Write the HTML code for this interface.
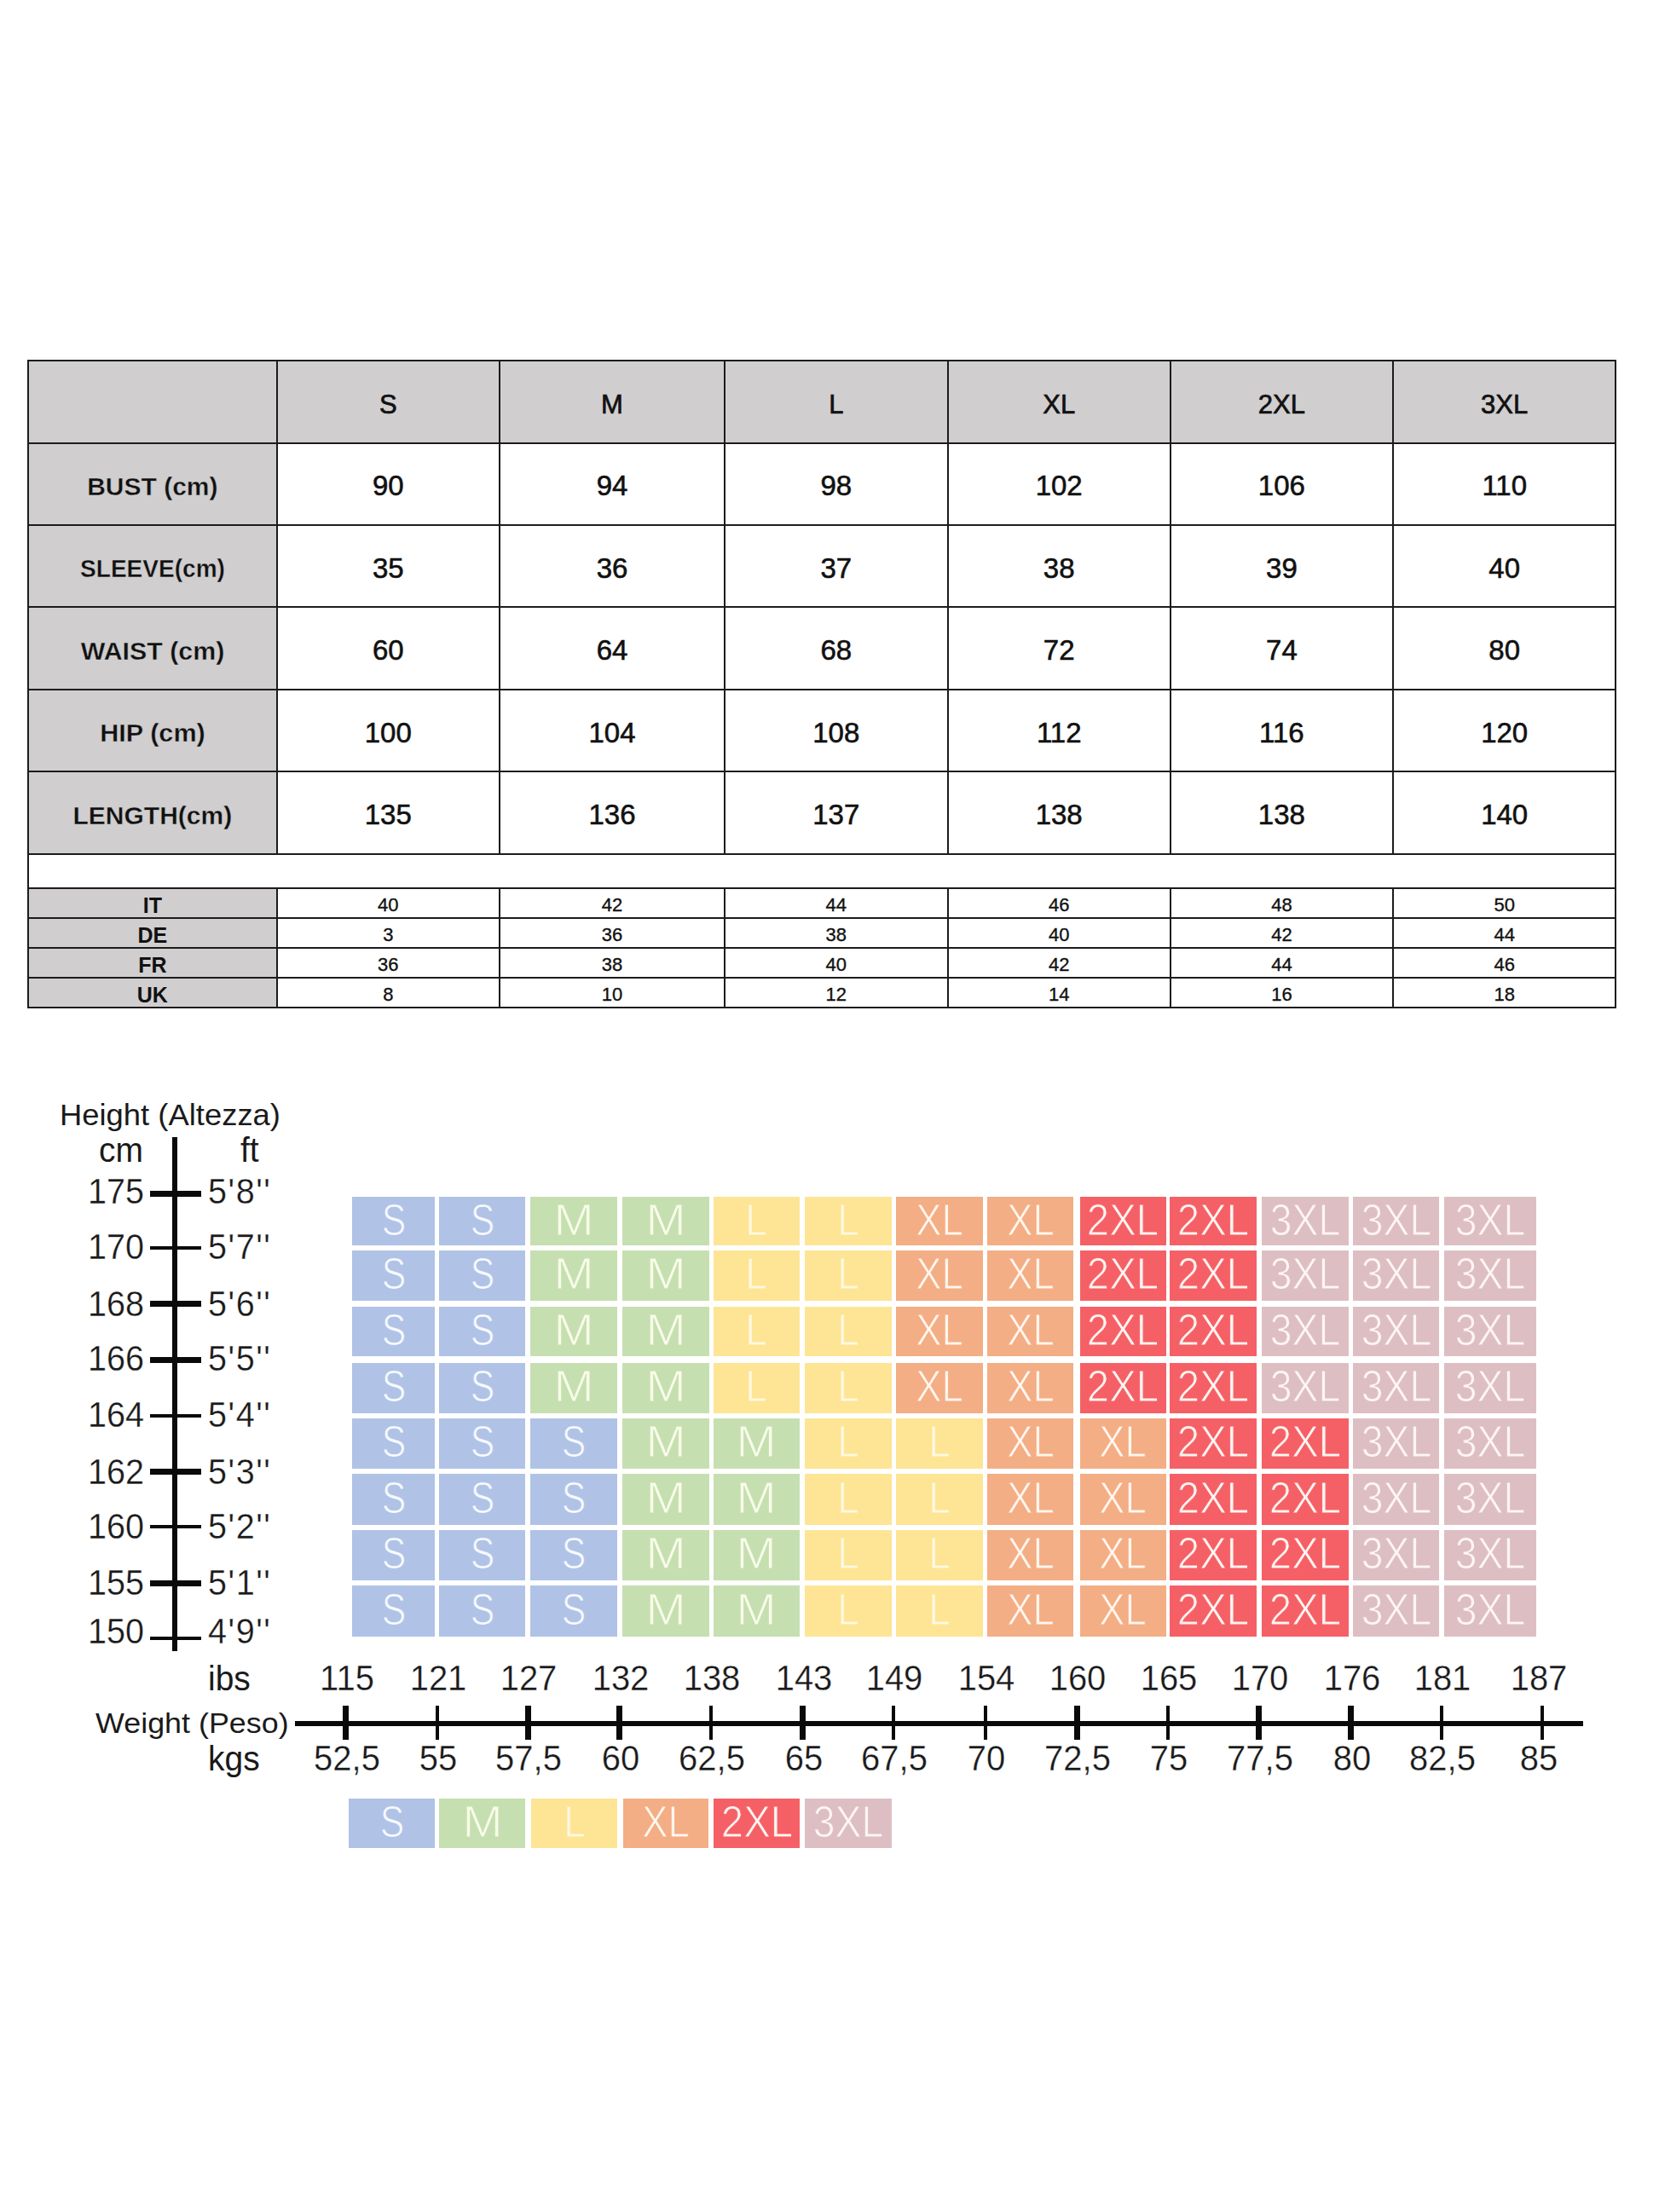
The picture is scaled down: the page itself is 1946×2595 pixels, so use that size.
<!DOCTYPE html>
<html><head><meta charset="utf-8"><title>Size chart</title>
<style>
html,body{margin:0;padding:0;background:#fff;}
body{width:1946px;height:2595px;position:relative;overflow:hidden;font-family:"Liberation Sans", sans-serif;}
body>div{position:absolute;}
.t{line-height:1;white-space:nowrap;}
</style></head><body>
<div style="left:33.0px;top:423.0px;width:1862.3px;height:96.5px;background:#d0cecf;"></div>
<div style="left:33.0px;top:519.5px;width:291.6px;height:482.1px;background:#d0cecf;"></div>
<div style="left:33.0px;top:1042.0px;width:291.6px;height:140.0px;background:#d0cecf;"></div>
<div style="left:32.0px;top:422.0px;width:1864.3px;height:2.0px;background:#1c1c1c;"></div>
<div style="left:32.0px;top:518.5px;width:1864.3px;height:2.0px;background:#1c1c1c;"></div>
<div style="left:32.0px;top:614.8px;width:1864.3px;height:2.0px;background:#1c1c1c;"></div>
<div style="left:32.0px;top:711.2px;width:1864.3px;height:2.0px;background:#1c1c1c;"></div>
<div style="left:32.0px;top:807.8px;width:1864.3px;height:2.0px;background:#1c1c1c;"></div>
<div style="left:32.0px;top:904.1px;width:1864.3px;height:2.0px;background:#1c1c1c;"></div>
<div style="left:32.0px;top:1000.6px;width:1864.3px;height:2.0px;background:#1c1c1c;"></div>
<div style="left:32.0px;top:1041.0px;width:1864.3px;height:2.0px;background:#1c1c1c;"></div>
<div style="left:32.0px;top:1076.0px;width:1864.3px;height:2.0px;background:#1c1c1c;"></div>
<div style="left:32.0px;top:1111.0px;width:1864.3px;height:2.0px;background:#1c1c1c;"></div>
<div style="left:32.0px;top:1146.0px;width:1864.3px;height:2.0px;background:#1c1c1c;"></div>
<div style="left:32.0px;top:1181.0px;width:1864.3px;height:2.0px;background:#1c1c1c;"></div>
<div style="left:32.0px;top:422.0px;width:2.0px;height:761.0px;background:#1c1c1c;"></div>
<div style="left:323.6px;top:422.0px;width:2.0px;height:580.6px;background:#1c1c1c;"></div>
<div style="left:323.6px;top:1041.0px;width:2.0px;height:142.0px;background:#1c1c1c;"></div>
<div style="left:585.0px;top:422.0px;width:2.0px;height:580.6px;background:#1c1c1c;"></div>
<div style="left:585.0px;top:1041.0px;width:2.0px;height:142.0px;background:#1c1c1c;"></div>
<div style="left:849.1px;top:422.0px;width:2.0px;height:580.6px;background:#1c1c1c;"></div>
<div style="left:849.1px;top:1041.0px;width:2.0px;height:142.0px;background:#1c1c1c;"></div>
<div style="left:1110.5px;top:422.0px;width:2.0px;height:580.6px;background:#1c1c1c;"></div>
<div style="left:1110.5px;top:1041.0px;width:2.0px;height:142.0px;background:#1c1c1c;"></div>
<div style="left:1371.8px;top:422.0px;width:2.0px;height:580.6px;background:#1c1c1c;"></div>
<div style="left:1371.8px;top:1041.0px;width:2.0px;height:142.0px;background:#1c1c1c;"></div>
<div style="left:1633.1px;top:422.0px;width:2.0px;height:580.6px;background:#1c1c1c;"></div>
<div style="left:1633.1px;top:1041.0px;width:2.0px;height:142.0px;background:#1c1c1c;"></div>
<div style="left:1894.3px;top:422.0px;width:2.0px;height:761.0px;background:#1c1c1c;"></div>
<div class="t" style="left:55.3px;width:800px;top:458.5px;font-size:31px;font-weight:400;color:#111;text-align:center;-webkit-text-stroke:0.7px #111;">S</div>
<div class="t" style="left:318.0px;width:800px;top:458.5px;font-size:31px;font-weight:400;color:#111;text-align:center;-webkit-text-stroke:0.7px #111;">M</div>
<div class="t" style="left:580.8px;width:800px;top:458.5px;font-size:31px;font-weight:400;color:#111;text-align:center;-webkit-text-stroke:0.7px #111;">L</div>
<div class="t" style="left:842.2px;width:800px;top:458.5px;font-size:31px;font-weight:400;color:#111;text-align:center;-webkit-text-stroke:0.7px #111;">XL</div>
<div class="t" style="left:1103.4px;width:800px;top:458.5px;font-size:31px;font-weight:400;color:#111;text-align:center;-webkit-text-stroke:0.7px #111;">2XL</div>
<div class="t" style="left:1364.7px;width:800px;top:458.5px;font-size:31px;font-weight:400;color:#111;text-align:center;-webkit-text-stroke:0.7px #111;">3XL</div>
<div class="t" style="left:-221.2px;width:800px;top:555.8px;font-size:30px;font-weight:700;color:#111;text-align:center;-webkit-text-stroke:0.4px #d0cecf;">BUST (cm)</div>
<div class="t" style="left:55.3px;width:800px;top:553.2px;font-size:33px;font-weight:400;color:#111;text-align:center;-webkit-text-stroke:0.6px #111;">90</div>
<div class="t" style="left:318.0px;width:800px;top:553.2px;font-size:33px;font-weight:400;color:#111;text-align:center;-webkit-text-stroke:0.6px #111;">94</div>
<div class="t" style="left:580.8px;width:800px;top:553.2px;font-size:33px;font-weight:400;color:#111;text-align:center;-webkit-text-stroke:0.6px #111;">98</div>
<div class="t" style="left:842.2px;width:800px;top:553.2px;font-size:33px;font-weight:400;color:#111;text-align:center;-webkit-text-stroke:0.6px #111;">102</div>
<div class="t" style="left:1103.4px;width:800px;top:553.2px;font-size:33px;font-weight:400;color:#111;text-align:center;-webkit-text-stroke:0.6px #111;">106</div>
<div class="t" style="left:1364.7px;width:800px;top:553.2px;font-size:33px;font-weight:400;color:#111;text-align:center;-webkit-text-stroke:0.6px #111;">110</div>
<div class="t" style="left:-221.2px;width:800px;top:652.1px;font-size:30px;font-weight:700;color:#111;text-align:center;transform:scaleX(0.935);-webkit-text-stroke:0.4px #d0cecf;">SLEEVE(cm)</div>
<div class="t" style="left:55.3px;width:800px;top:649.6px;font-size:33px;font-weight:400;color:#111;text-align:center;-webkit-text-stroke:0.6px #111;">35</div>
<div class="t" style="left:318.0px;width:800px;top:649.6px;font-size:33px;font-weight:400;color:#111;text-align:center;-webkit-text-stroke:0.6px #111;">36</div>
<div class="t" style="left:580.8px;width:800px;top:649.6px;font-size:33px;font-weight:400;color:#111;text-align:center;-webkit-text-stroke:0.6px #111;">37</div>
<div class="t" style="left:842.2px;width:800px;top:649.6px;font-size:33px;font-weight:400;color:#111;text-align:center;-webkit-text-stroke:0.6px #111;">38</div>
<div class="t" style="left:1103.4px;width:800px;top:649.6px;font-size:33px;font-weight:400;color:#111;text-align:center;-webkit-text-stroke:0.6px #111;">39</div>
<div class="t" style="left:1364.7px;width:800px;top:649.6px;font-size:33px;font-weight:400;color:#111;text-align:center;-webkit-text-stroke:0.6px #111;">40</div>
<div class="t" style="left:-221.2px;width:800px;top:748.6px;font-size:30px;font-weight:700;color:#111;text-align:center;transform:scaleX(1.012);-webkit-text-stroke:0.4px #d0cecf;">WAIST (cm)</div>
<div class="t" style="left:55.3px;width:800px;top:746.1px;font-size:33px;font-weight:400;color:#111;text-align:center;-webkit-text-stroke:0.6px #111;">60</div>
<div class="t" style="left:318.0px;width:800px;top:746.1px;font-size:33px;font-weight:400;color:#111;text-align:center;-webkit-text-stroke:0.6px #111;">64</div>
<div class="t" style="left:580.8px;width:800px;top:746.1px;font-size:33px;font-weight:400;color:#111;text-align:center;-webkit-text-stroke:0.6px #111;">68</div>
<div class="t" style="left:842.2px;width:800px;top:746.1px;font-size:33px;font-weight:400;color:#111;text-align:center;-webkit-text-stroke:0.6px #111;">72</div>
<div class="t" style="left:1103.4px;width:800px;top:746.1px;font-size:33px;font-weight:400;color:#111;text-align:center;-webkit-text-stroke:0.6px #111;">74</div>
<div class="t" style="left:1364.7px;width:800px;top:746.1px;font-size:33px;font-weight:400;color:#111;text-align:center;-webkit-text-stroke:0.6px #111;">80</div>
<div class="t" style="left:-221.2px;width:800px;top:845.1px;font-size:30px;font-weight:700;color:#111;text-align:center;transform:scaleX(1.02);-webkit-text-stroke:0.4px #d0cecf;">HIP (cm)</div>
<div class="t" style="left:55.3px;width:800px;top:842.5px;font-size:33px;font-weight:400;color:#111;text-align:center;-webkit-text-stroke:0.6px #111;">100</div>
<div class="t" style="left:318.0px;width:800px;top:842.5px;font-size:33px;font-weight:400;color:#111;text-align:center;-webkit-text-stroke:0.6px #111;">104</div>
<div class="t" style="left:580.8px;width:800px;top:842.5px;font-size:33px;font-weight:400;color:#111;text-align:center;-webkit-text-stroke:0.6px #111;">108</div>
<div class="t" style="left:842.2px;width:800px;top:842.5px;font-size:33px;font-weight:400;color:#111;text-align:center;-webkit-text-stroke:0.6px #111;">112</div>
<div class="t" style="left:1103.4px;width:800px;top:842.5px;font-size:33px;font-weight:400;color:#111;text-align:center;-webkit-text-stroke:0.6px #111;">116</div>
<div class="t" style="left:1364.7px;width:800px;top:842.5px;font-size:33px;font-weight:400;color:#111;text-align:center;-webkit-text-stroke:0.6px #111;">120</div>
<div class="t" style="left:-221.2px;width:800px;top:941.5px;font-size:30px;font-weight:700;color:#111;text-align:center;-webkit-text-stroke:0.4px #d0cecf;">LENGTH(cm)</div>
<div class="t" style="left:55.3px;width:800px;top:938.9px;font-size:33px;font-weight:400;color:#111;text-align:center;-webkit-text-stroke:0.6px #111;">135</div>
<div class="t" style="left:318.0px;width:800px;top:938.9px;font-size:33px;font-weight:400;color:#111;text-align:center;-webkit-text-stroke:0.6px #111;">136</div>
<div class="t" style="left:580.8px;width:800px;top:938.9px;font-size:33px;font-weight:400;color:#111;text-align:center;-webkit-text-stroke:0.6px #111;">137</div>
<div class="t" style="left:842.2px;width:800px;top:938.9px;font-size:33px;font-weight:400;color:#111;text-align:center;-webkit-text-stroke:0.6px #111;">138</div>
<div class="t" style="left:1103.4px;width:800px;top:938.9px;font-size:33px;font-weight:400;color:#111;text-align:center;-webkit-text-stroke:0.6px #111;">138</div>
<div class="t" style="left:1364.7px;width:800px;top:938.9px;font-size:33px;font-weight:400;color:#111;text-align:center;-webkit-text-stroke:0.6px #111;">140</div>
<div class="t" style="left:-221.2px;width:800px;top:1049.5px;font-size:25px;font-weight:700;color:#111;text-align:center;">IT</div>
<div class="t" style="left:55.3px;width:800px;top:1050.8px;font-size:22px;font-weight:400;color:#111;text-align:center;-webkit-text-stroke:0.35px #111;">40</div>
<div class="t" style="left:318.0px;width:800px;top:1050.8px;font-size:22px;font-weight:400;color:#111;text-align:center;-webkit-text-stroke:0.35px #111;">42</div>
<div class="t" style="left:580.8px;width:800px;top:1050.8px;font-size:22px;font-weight:400;color:#111;text-align:center;-webkit-text-stroke:0.35px #111;">44</div>
<div class="t" style="left:842.2px;width:800px;top:1050.8px;font-size:22px;font-weight:400;color:#111;text-align:center;-webkit-text-stroke:0.35px #111;">46</div>
<div class="t" style="left:1103.4px;width:800px;top:1050.8px;font-size:22px;font-weight:400;color:#111;text-align:center;-webkit-text-stroke:0.35px #111;">48</div>
<div class="t" style="left:1364.7px;width:800px;top:1050.8px;font-size:22px;font-weight:400;color:#111;text-align:center;-webkit-text-stroke:0.35px #111;">50</div>
<div class="t" style="left:-221.2px;width:800px;top:1084.5px;font-size:25px;font-weight:700;color:#111;text-align:center;">DE</div>
<div class="t" style="left:55.3px;width:800px;top:1085.8px;font-size:22px;font-weight:400;color:#111;text-align:center;-webkit-text-stroke:0.35px #111;">3</div>
<div class="t" style="left:318.0px;width:800px;top:1085.8px;font-size:22px;font-weight:400;color:#111;text-align:center;-webkit-text-stroke:0.35px #111;">36</div>
<div class="t" style="left:580.8px;width:800px;top:1085.8px;font-size:22px;font-weight:400;color:#111;text-align:center;-webkit-text-stroke:0.35px #111;">38</div>
<div class="t" style="left:842.2px;width:800px;top:1085.8px;font-size:22px;font-weight:400;color:#111;text-align:center;-webkit-text-stroke:0.35px #111;">40</div>
<div class="t" style="left:1103.4px;width:800px;top:1085.8px;font-size:22px;font-weight:400;color:#111;text-align:center;-webkit-text-stroke:0.35px #111;">42</div>
<div class="t" style="left:1364.7px;width:800px;top:1085.8px;font-size:22px;font-weight:400;color:#111;text-align:center;-webkit-text-stroke:0.35px #111;">44</div>
<div class="t" style="left:-221.2px;width:800px;top:1119.5px;font-size:25px;font-weight:700;color:#111;text-align:center;">FR</div>
<div class="t" style="left:55.3px;width:800px;top:1120.8px;font-size:22px;font-weight:400;color:#111;text-align:center;-webkit-text-stroke:0.35px #111;">36</div>
<div class="t" style="left:318.0px;width:800px;top:1120.8px;font-size:22px;font-weight:400;color:#111;text-align:center;-webkit-text-stroke:0.35px #111;">38</div>
<div class="t" style="left:580.8px;width:800px;top:1120.8px;font-size:22px;font-weight:400;color:#111;text-align:center;-webkit-text-stroke:0.35px #111;">40</div>
<div class="t" style="left:842.2px;width:800px;top:1120.8px;font-size:22px;font-weight:400;color:#111;text-align:center;-webkit-text-stroke:0.35px #111;">42</div>
<div class="t" style="left:1103.4px;width:800px;top:1120.8px;font-size:22px;font-weight:400;color:#111;text-align:center;-webkit-text-stroke:0.35px #111;">44</div>
<div class="t" style="left:1364.7px;width:800px;top:1120.8px;font-size:22px;font-weight:400;color:#111;text-align:center;-webkit-text-stroke:0.35px #111;">46</div>
<div class="t" style="left:-221.2px;width:800px;top:1154.5px;font-size:25px;font-weight:700;color:#111;text-align:center;">UK</div>
<div class="t" style="left:55.3px;width:800px;top:1155.8px;font-size:22px;font-weight:400;color:#111;text-align:center;-webkit-text-stroke:0.35px #111;">8</div>
<div class="t" style="left:318.0px;width:800px;top:1155.8px;font-size:22px;font-weight:400;color:#111;text-align:center;-webkit-text-stroke:0.35px #111;">10</div>
<div class="t" style="left:580.8px;width:800px;top:1155.8px;font-size:22px;font-weight:400;color:#111;text-align:center;-webkit-text-stroke:0.35px #111;">12</div>
<div class="t" style="left:842.2px;width:800px;top:1155.8px;font-size:22px;font-weight:400;color:#111;text-align:center;-webkit-text-stroke:0.35px #111;">14</div>
<div class="t" style="left:1103.4px;width:800px;top:1155.8px;font-size:22px;font-weight:400;color:#111;text-align:center;-webkit-text-stroke:0.35px #111;">16</div>
<div class="t" style="left:1364.7px;width:800px;top:1155.8px;font-size:22px;font-weight:400;color:#111;text-align:center;-webkit-text-stroke:0.35px #111;">18</div>
<div style="left:412.7px;top:1404.3px;width:97.8px;height:57.1px;background:#b0c3e6;"></div>
<div class="t" style="left:61.6px;width:800px;top:1405.5px;font-size:51.5px;font-weight:400;color:#f7f9fe;text-align:center;transform:scaleX(0.83);-webkit-text-stroke:1.0px #b0c3e6;">S</div>
<div style="left:514.8px;top:1404.3px;width:101.7px;height:57.1px;background:#b0c3e6;"></div>
<div class="t" style="left:165.6px;width:800px;top:1405.5px;font-size:51.5px;font-weight:400;color:#f7f9fe;text-align:center;transform:scaleX(0.83);-webkit-text-stroke:1.0px #b0c3e6;">S</div>
<div style="left:622.4px;top:1404.3px;width:101.6px;height:57.1px;background:#c6dfb0;"></div>
<div class="t" style="left:273.2px;width:800px;top:1405.5px;font-size:51.5px;font-weight:400;color:#f8fce9;text-align:center;transform:scaleX(1.1);-webkit-text-stroke:1.0px #c6dfb0;">M</div>
<div style="left:730.4px;top:1404.3px;width:101.2px;height:57.1px;background:#c6dfb0;"></div>
<div class="t" style="left:381.0px;width:800px;top:1405.5px;font-size:51.5px;font-weight:400;color:#f8fce9;text-align:center;transform:scaleX(1.1);-webkit-text-stroke:1.0px #c6dfb0;">M</div>
<div style="left:836.7px;top:1404.3px;width:101.3px;height:57.1px;background:#fde595;"></div>
<div class="t" style="left:487.4px;width:800px;top:1405.5px;font-size:51.5px;font-weight:400;color:#fff8e2;text-align:center;transform:scaleX(0.89);-webkit-text-stroke:1.0px #fde595;">L</div>
<div style="left:944.3px;top:1404.3px;width:101.3px;height:57.1px;background:#fde595;"></div>
<div class="t" style="left:594.9px;width:800px;top:1405.5px;font-size:51.5px;font-weight:400;color:#fff8e2;text-align:center;transform:scaleX(0.89);-webkit-text-stroke:1.0px #fde595;">L</div>
<div style="left:1050.6px;top:1404.3px;width:102.7px;height:57.1px;background:#f3ae85;"></div>
<div class="t" style="left:701.9px;width:800px;top:1405.5px;font-size:51.5px;font-weight:400;color:#fff6ee;text-align:center;transform:scaleX(0.88);-webkit-text-stroke:1.0px #f3ae85;">XL</div>
<div style="left:1158.1px;top:1404.3px;width:101.3px;height:57.1px;background:#f3ae85;"></div>
<div class="t" style="left:808.8px;width:800px;top:1405.5px;font-size:51.5px;font-weight:400;color:#fff6ee;text-align:center;transform:scaleX(0.88);-webkit-text-stroke:1.0px #f3ae85;">XL</div>
<div style="left:1266.6px;top:1404.3px;width:101.3px;height:57.1px;background:#f56066;"></div>
<div class="t" style="left:917.2px;width:800px;top:1405.5px;font-size:51.5px;font-weight:400;color:#fff4f0;text-align:center;transform:scaleX(0.92);-webkit-text-stroke:1.0px #f56066;">2XL</div>
<div style="left:1371.7px;top:1404.3px;width:102.2px;height:57.1px;background:#f56066;"></div>
<div class="t" style="left:1022.8px;width:800px;top:1405.5px;font-size:51.5px;font-weight:400;color:#fff4f0;text-align:center;transform:scaleX(0.92);-webkit-text-stroke:1.0px #f56066;">2XL</div>
<div style="left:1479.7px;top:1404.3px;width:102.7px;height:57.1px;background:#ddbfc3;"></div>
<div class="t" style="left:1131.1px;width:800px;top:1405.5px;font-size:51.5px;font-weight:400;color:#fff5f5;text-align:center;transform:scaleX(0.9);-webkit-text-stroke:1.0px #ddbfc3;">3XL</div>
<div style="left:1587.3px;top:1404.3px;width:101.2px;height:57.1px;background:#ddbfc3;"></div>
<div class="t" style="left:1237.9px;width:800px;top:1405.5px;font-size:51.5px;font-weight:400;color:#fff5f5;text-align:center;transform:scaleX(0.9);-webkit-text-stroke:1.0px #ddbfc3;">3XL</div>
<div style="left:1694.3px;top:1404.3px;width:107.5px;height:57.1px;background:#ddbfc3;"></div>
<div class="t" style="left:1348.0px;width:800px;top:1405.5px;font-size:51.5px;font-weight:400;color:#fff5f5;text-align:center;transform:scaleX(0.9);-webkit-text-stroke:1.0px #ddbfc3;">3XL</div>
<div style="left:412.7px;top:1466.7px;width:97.8px;height:58.9px;background:#b0c3e6;"></div>
<div class="t" style="left:61.6px;width:800px;top:1468.8px;font-size:51.5px;font-weight:400;color:#f7f9fe;text-align:center;transform:scaleX(0.83);-webkit-text-stroke:1.0px #b0c3e6;">S</div>
<div style="left:514.8px;top:1466.7px;width:101.7px;height:58.9px;background:#b0c3e6;"></div>
<div class="t" style="left:165.6px;width:800px;top:1468.8px;font-size:51.5px;font-weight:400;color:#f7f9fe;text-align:center;transform:scaleX(0.83);-webkit-text-stroke:1.0px #b0c3e6;">S</div>
<div style="left:622.4px;top:1466.7px;width:101.6px;height:58.9px;background:#c6dfb0;"></div>
<div class="t" style="left:273.2px;width:800px;top:1468.8px;font-size:51.5px;font-weight:400;color:#f8fce9;text-align:center;transform:scaleX(1.1);-webkit-text-stroke:1.0px #c6dfb0;">M</div>
<div style="left:730.4px;top:1466.7px;width:101.2px;height:58.9px;background:#c6dfb0;"></div>
<div class="t" style="left:381.0px;width:800px;top:1468.8px;font-size:51.5px;font-weight:400;color:#f8fce9;text-align:center;transform:scaleX(1.1);-webkit-text-stroke:1.0px #c6dfb0;">M</div>
<div style="left:836.7px;top:1466.7px;width:101.3px;height:58.9px;background:#fde595;"></div>
<div class="t" style="left:487.4px;width:800px;top:1468.8px;font-size:51.5px;font-weight:400;color:#fff8e2;text-align:center;transform:scaleX(0.89);-webkit-text-stroke:1.0px #fde595;">L</div>
<div style="left:944.3px;top:1466.7px;width:101.3px;height:58.9px;background:#fde595;"></div>
<div class="t" style="left:594.9px;width:800px;top:1468.8px;font-size:51.5px;font-weight:400;color:#fff8e2;text-align:center;transform:scaleX(0.89);-webkit-text-stroke:1.0px #fde595;">L</div>
<div style="left:1050.6px;top:1466.7px;width:102.7px;height:58.9px;background:#f3ae85;"></div>
<div class="t" style="left:701.9px;width:800px;top:1468.8px;font-size:51.5px;font-weight:400;color:#fff6ee;text-align:center;transform:scaleX(0.88);-webkit-text-stroke:1.0px #f3ae85;">XL</div>
<div style="left:1158.1px;top:1466.7px;width:101.3px;height:58.9px;background:#f3ae85;"></div>
<div class="t" style="left:808.8px;width:800px;top:1468.8px;font-size:51.5px;font-weight:400;color:#fff6ee;text-align:center;transform:scaleX(0.88);-webkit-text-stroke:1.0px #f3ae85;">XL</div>
<div style="left:1266.6px;top:1466.7px;width:101.3px;height:58.9px;background:#f56066;"></div>
<div class="t" style="left:917.2px;width:800px;top:1468.8px;font-size:51.5px;font-weight:400;color:#fff4f0;text-align:center;transform:scaleX(0.92);-webkit-text-stroke:1.0px #f56066;">2XL</div>
<div style="left:1371.7px;top:1466.7px;width:102.2px;height:58.9px;background:#f56066;"></div>
<div class="t" style="left:1022.8px;width:800px;top:1468.8px;font-size:51.5px;font-weight:400;color:#fff4f0;text-align:center;transform:scaleX(0.92);-webkit-text-stroke:1.0px #f56066;">2XL</div>
<div style="left:1479.7px;top:1466.7px;width:102.7px;height:58.9px;background:#ddbfc3;"></div>
<div class="t" style="left:1131.1px;width:800px;top:1468.8px;font-size:51.5px;font-weight:400;color:#fff5f5;text-align:center;transform:scaleX(0.9);-webkit-text-stroke:1.0px #ddbfc3;">3XL</div>
<div style="left:1587.3px;top:1466.7px;width:101.2px;height:58.9px;background:#ddbfc3;"></div>
<div class="t" style="left:1237.9px;width:800px;top:1468.8px;font-size:51.5px;font-weight:400;color:#fff5f5;text-align:center;transform:scaleX(0.9);-webkit-text-stroke:1.0px #ddbfc3;">3XL</div>
<div style="left:1694.3px;top:1466.7px;width:107.5px;height:58.9px;background:#ddbfc3;"></div>
<div class="t" style="left:1348.0px;width:800px;top:1468.8px;font-size:51.5px;font-weight:400;color:#fff5f5;text-align:center;transform:scaleX(0.9);-webkit-text-stroke:1.0px #ddbfc3;">3XL</div>
<div style="left:412.7px;top:1532.8px;width:97.8px;height:58.7px;background:#b0c3e6;"></div>
<div class="t" style="left:61.6px;width:800px;top:1534.8px;font-size:51.5px;font-weight:400;color:#f7f9fe;text-align:center;transform:scaleX(0.83);-webkit-text-stroke:1.0px #b0c3e6;">S</div>
<div style="left:514.8px;top:1532.8px;width:101.7px;height:58.7px;background:#b0c3e6;"></div>
<div class="t" style="left:165.6px;width:800px;top:1534.8px;font-size:51.5px;font-weight:400;color:#f7f9fe;text-align:center;transform:scaleX(0.83);-webkit-text-stroke:1.0px #b0c3e6;">S</div>
<div style="left:622.4px;top:1532.8px;width:101.6px;height:58.7px;background:#c6dfb0;"></div>
<div class="t" style="left:273.2px;width:800px;top:1534.8px;font-size:51.5px;font-weight:400;color:#f8fce9;text-align:center;transform:scaleX(1.1);-webkit-text-stroke:1.0px #c6dfb0;">M</div>
<div style="left:730.4px;top:1532.8px;width:101.2px;height:58.7px;background:#c6dfb0;"></div>
<div class="t" style="left:381.0px;width:800px;top:1534.8px;font-size:51.5px;font-weight:400;color:#f8fce9;text-align:center;transform:scaleX(1.1);-webkit-text-stroke:1.0px #c6dfb0;">M</div>
<div style="left:836.7px;top:1532.8px;width:101.3px;height:58.7px;background:#fde595;"></div>
<div class="t" style="left:487.4px;width:800px;top:1534.8px;font-size:51.5px;font-weight:400;color:#fff8e2;text-align:center;transform:scaleX(0.89);-webkit-text-stroke:1.0px #fde595;">L</div>
<div style="left:944.3px;top:1532.8px;width:101.3px;height:58.7px;background:#fde595;"></div>
<div class="t" style="left:594.9px;width:800px;top:1534.8px;font-size:51.5px;font-weight:400;color:#fff8e2;text-align:center;transform:scaleX(0.89);-webkit-text-stroke:1.0px #fde595;">L</div>
<div style="left:1050.6px;top:1532.8px;width:102.7px;height:58.7px;background:#f3ae85;"></div>
<div class="t" style="left:701.9px;width:800px;top:1534.8px;font-size:51.5px;font-weight:400;color:#fff6ee;text-align:center;transform:scaleX(0.88);-webkit-text-stroke:1.0px #f3ae85;">XL</div>
<div style="left:1158.1px;top:1532.8px;width:101.3px;height:58.7px;background:#f3ae85;"></div>
<div class="t" style="left:808.8px;width:800px;top:1534.8px;font-size:51.5px;font-weight:400;color:#fff6ee;text-align:center;transform:scaleX(0.88);-webkit-text-stroke:1.0px #f3ae85;">XL</div>
<div style="left:1266.6px;top:1532.8px;width:101.3px;height:58.7px;background:#f56066;"></div>
<div class="t" style="left:917.2px;width:800px;top:1534.8px;font-size:51.5px;font-weight:400;color:#fff4f0;text-align:center;transform:scaleX(0.92);-webkit-text-stroke:1.0px #f56066;">2XL</div>
<div style="left:1371.7px;top:1532.8px;width:102.2px;height:58.7px;background:#f56066;"></div>
<div class="t" style="left:1022.8px;width:800px;top:1534.8px;font-size:51.5px;font-weight:400;color:#fff4f0;text-align:center;transform:scaleX(0.92);-webkit-text-stroke:1.0px #f56066;">2XL</div>
<div style="left:1479.7px;top:1532.8px;width:102.7px;height:58.7px;background:#ddbfc3;"></div>
<div class="t" style="left:1131.1px;width:800px;top:1534.8px;font-size:51.5px;font-weight:400;color:#fff5f5;text-align:center;transform:scaleX(0.9);-webkit-text-stroke:1.0px #ddbfc3;">3XL</div>
<div style="left:1587.3px;top:1532.8px;width:101.2px;height:58.7px;background:#ddbfc3;"></div>
<div class="t" style="left:1237.9px;width:800px;top:1534.8px;font-size:51.5px;font-weight:400;color:#fff5f5;text-align:center;transform:scaleX(0.9);-webkit-text-stroke:1.0px #ddbfc3;">3XL</div>
<div style="left:1694.3px;top:1532.8px;width:107.5px;height:58.7px;background:#ddbfc3;"></div>
<div class="t" style="left:1348.0px;width:800px;top:1534.8px;font-size:51.5px;font-weight:400;color:#fff5f5;text-align:center;transform:scaleX(0.9);-webkit-text-stroke:1.0px #ddbfc3;">3XL</div>
<div style="left:412.7px;top:1599.0px;width:97.8px;height:59.4px;background:#b0c3e6;"></div>
<div class="t" style="left:61.6px;width:800px;top:1601.3px;font-size:51.5px;font-weight:400;color:#f7f9fe;text-align:center;transform:scaleX(0.83);-webkit-text-stroke:1.0px #b0c3e6;">S</div>
<div style="left:514.8px;top:1599.0px;width:101.7px;height:59.4px;background:#b0c3e6;"></div>
<div class="t" style="left:165.6px;width:800px;top:1601.3px;font-size:51.5px;font-weight:400;color:#f7f9fe;text-align:center;transform:scaleX(0.83);-webkit-text-stroke:1.0px #b0c3e6;">S</div>
<div style="left:622.4px;top:1599.0px;width:101.6px;height:59.4px;background:#c6dfb0;"></div>
<div class="t" style="left:273.2px;width:800px;top:1601.3px;font-size:51.5px;font-weight:400;color:#f8fce9;text-align:center;transform:scaleX(1.1);-webkit-text-stroke:1.0px #c6dfb0;">M</div>
<div style="left:730.4px;top:1599.0px;width:101.2px;height:59.4px;background:#c6dfb0;"></div>
<div class="t" style="left:381.0px;width:800px;top:1601.3px;font-size:51.5px;font-weight:400;color:#f8fce9;text-align:center;transform:scaleX(1.1);-webkit-text-stroke:1.0px #c6dfb0;">M</div>
<div style="left:836.7px;top:1599.0px;width:101.3px;height:59.4px;background:#fde595;"></div>
<div class="t" style="left:487.4px;width:800px;top:1601.3px;font-size:51.5px;font-weight:400;color:#fff8e2;text-align:center;transform:scaleX(0.89);-webkit-text-stroke:1.0px #fde595;">L</div>
<div style="left:944.3px;top:1599.0px;width:101.3px;height:59.4px;background:#fde595;"></div>
<div class="t" style="left:594.9px;width:800px;top:1601.3px;font-size:51.5px;font-weight:400;color:#fff8e2;text-align:center;transform:scaleX(0.89);-webkit-text-stroke:1.0px #fde595;">L</div>
<div style="left:1050.6px;top:1599.0px;width:102.7px;height:59.4px;background:#f3ae85;"></div>
<div class="t" style="left:701.9px;width:800px;top:1601.3px;font-size:51.5px;font-weight:400;color:#fff6ee;text-align:center;transform:scaleX(0.88);-webkit-text-stroke:1.0px #f3ae85;">XL</div>
<div style="left:1158.1px;top:1599.0px;width:101.3px;height:59.4px;background:#f3ae85;"></div>
<div class="t" style="left:808.8px;width:800px;top:1601.3px;font-size:51.5px;font-weight:400;color:#fff6ee;text-align:center;transform:scaleX(0.88);-webkit-text-stroke:1.0px #f3ae85;">XL</div>
<div style="left:1266.6px;top:1599.0px;width:101.3px;height:59.4px;background:#f56066;"></div>
<div class="t" style="left:917.2px;width:800px;top:1601.3px;font-size:51.5px;font-weight:400;color:#fff4f0;text-align:center;transform:scaleX(0.92);-webkit-text-stroke:1.0px #f56066;">2XL</div>
<div style="left:1371.7px;top:1599.0px;width:102.2px;height:59.4px;background:#f56066;"></div>
<div class="t" style="left:1022.8px;width:800px;top:1601.3px;font-size:51.5px;font-weight:400;color:#fff4f0;text-align:center;transform:scaleX(0.92);-webkit-text-stroke:1.0px #f56066;">2XL</div>
<div style="left:1479.7px;top:1599.0px;width:102.7px;height:59.4px;background:#ddbfc3;"></div>
<div class="t" style="left:1131.1px;width:800px;top:1601.3px;font-size:51.5px;font-weight:400;color:#fff5f5;text-align:center;transform:scaleX(0.9);-webkit-text-stroke:1.0px #ddbfc3;">3XL</div>
<div style="left:1587.3px;top:1599.0px;width:101.2px;height:59.4px;background:#ddbfc3;"></div>
<div class="t" style="left:1237.9px;width:800px;top:1601.3px;font-size:51.5px;font-weight:400;color:#fff5f5;text-align:center;transform:scaleX(0.9);-webkit-text-stroke:1.0px #ddbfc3;">3XL</div>
<div style="left:1694.3px;top:1599.0px;width:107.5px;height:59.4px;background:#ddbfc3;"></div>
<div class="t" style="left:1348.0px;width:800px;top:1601.3px;font-size:51.5px;font-weight:400;color:#fff5f5;text-align:center;transform:scaleX(0.9);-webkit-text-stroke:1.0px #ddbfc3;">3XL</div>
<div style="left:412.7px;top:1663.8px;width:97.8px;height:59.4px;background:#b0c3e6;"></div>
<div class="t" style="left:61.6px;width:800px;top:1666.1px;font-size:51.5px;font-weight:400;color:#f7f9fe;text-align:center;transform:scaleX(0.83);-webkit-text-stroke:1.0px #b0c3e6;">S</div>
<div style="left:514.8px;top:1663.8px;width:101.7px;height:59.4px;background:#b0c3e6;"></div>
<div class="t" style="left:165.6px;width:800px;top:1666.1px;font-size:51.5px;font-weight:400;color:#f7f9fe;text-align:center;transform:scaleX(0.83);-webkit-text-stroke:1.0px #b0c3e6;">S</div>
<div style="left:622.4px;top:1663.8px;width:101.6px;height:59.4px;background:#b0c3e6;"></div>
<div class="t" style="left:273.2px;width:800px;top:1666.1px;font-size:51.5px;font-weight:400;color:#f7f9fe;text-align:center;transform:scaleX(0.83);-webkit-text-stroke:1.0px #b0c3e6;">S</div>
<div style="left:730.4px;top:1663.8px;width:101.2px;height:59.4px;background:#c6dfb0;"></div>
<div class="t" style="left:381.0px;width:800px;top:1666.1px;font-size:51.5px;font-weight:400;color:#f8fce9;text-align:center;transform:scaleX(1.1);-webkit-text-stroke:1.0px #c6dfb0;">M</div>
<div style="left:836.7px;top:1663.8px;width:101.3px;height:59.4px;background:#c6dfb0;"></div>
<div class="t" style="left:487.4px;width:800px;top:1666.1px;font-size:51.5px;font-weight:400;color:#f8fce9;text-align:center;transform:scaleX(1.1);-webkit-text-stroke:1.0px #c6dfb0;">M</div>
<div style="left:944.3px;top:1663.8px;width:101.3px;height:59.4px;background:#fde595;"></div>
<div class="t" style="left:594.9px;width:800px;top:1666.1px;font-size:51.5px;font-weight:400;color:#fff8e2;text-align:center;transform:scaleX(0.89);-webkit-text-stroke:1.0px #fde595;">L</div>
<div style="left:1050.6px;top:1663.8px;width:102.7px;height:59.4px;background:#fde595;"></div>
<div class="t" style="left:701.9px;width:800px;top:1666.1px;font-size:51.5px;font-weight:400;color:#fff8e2;text-align:center;transform:scaleX(0.89);-webkit-text-stroke:1.0px #fde595;">L</div>
<div style="left:1158.1px;top:1663.8px;width:101.3px;height:59.4px;background:#f3ae85;"></div>
<div class="t" style="left:808.8px;width:800px;top:1666.1px;font-size:51.5px;font-weight:400;color:#fff6ee;text-align:center;transform:scaleX(0.88);-webkit-text-stroke:1.0px #f3ae85;">XL</div>
<div style="left:1266.6px;top:1663.8px;width:101.3px;height:59.4px;background:#f3ae85;"></div>
<div class="t" style="left:917.2px;width:800px;top:1666.1px;font-size:51.5px;font-weight:400;color:#fff6ee;text-align:center;transform:scaleX(0.88);-webkit-text-stroke:1.0px #f3ae85;">XL</div>
<div style="left:1371.7px;top:1663.8px;width:102.2px;height:59.4px;background:#f56066;"></div>
<div class="t" style="left:1022.8px;width:800px;top:1666.1px;font-size:51.5px;font-weight:400;color:#fff4f0;text-align:center;transform:scaleX(0.92);-webkit-text-stroke:1.0px #f56066;">2XL</div>
<div style="left:1479.7px;top:1663.8px;width:102.7px;height:59.4px;background:#f56066;"></div>
<div class="t" style="left:1131.1px;width:800px;top:1666.1px;font-size:51.5px;font-weight:400;color:#fff4f0;text-align:center;transform:scaleX(0.92);-webkit-text-stroke:1.0px #f56066;">2XL</div>
<div style="left:1587.3px;top:1663.8px;width:101.2px;height:59.4px;background:#ddbfc3;"></div>
<div class="t" style="left:1237.9px;width:800px;top:1666.1px;font-size:51.5px;font-weight:400;color:#fff5f5;text-align:center;transform:scaleX(0.9);-webkit-text-stroke:1.0px #ddbfc3;">3XL</div>
<div style="left:1694.3px;top:1663.8px;width:107.5px;height:59.4px;background:#ddbfc3;"></div>
<div class="t" style="left:1348.0px;width:800px;top:1666.1px;font-size:51.5px;font-weight:400;color:#fff5f5;text-align:center;transform:scaleX(0.9);-webkit-text-stroke:1.0px #ddbfc3;">3XL</div>
<div style="left:412.7px;top:1729.4px;width:97.8px;height:59.7px;background:#b0c3e6;"></div>
<div class="t" style="left:61.6px;width:800px;top:1731.9px;font-size:51.5px;font-weight:400;color:#f7f9fe;text-align:center;transform:scaleX(0.83);-webkit-text-stroke:1.0px #b0c3e6;">S</div>
<div style="left:514.8px;top:1729.4px;width:101.7px;height:59.7px;background:#b0c3e6;"></div>
<div class="t" style="left:165.6px;width:800px;top:1731.9px;font-size:51.5px;font-weight:400;color:#f7f9fe;text-align:center;transform:scaleX(0.83);-webkit-text-stroke:1.0px #b0c3e6;">S</div>
<div style="left:622.4px;top:1729.4px;width:101.6px;height:59.7px;background:#b0c3e6;"></div>
<div class="t" style="left:273.2px;width:800px;top:1731.9px;font-size:51.5px;font-weight:400;color:#f7f9fe;text-align:center;transform:scaleX(0.83);-webkit-text-stroke:1.0px #b0c3e6;">S</div>
<div style="left:730.4px;top:1729.4px;width:101.2px;height:59.7px;background:#c6dfb0;"></div>
<div class="t" style="left:381.0px;width:800px;top:1731.9px;font-size:51.5px;font-weight:400;color:#f8fce9;text-align:center;transform:scaleX(1.1);-webkit-text-stroke:1.0px #c6dfb0;">M</div>
<div style="left:836.7px;top:1729.4px;width:101.3px;height:59.7px;background:#c6dfb0;"></div>
<div class="t" style="left:487.4px;width:800px;top:1731.9px;font-size:51.5px;font-weight:400;color:#f8fce9;text-align:center;transform:scaleX(1.1);-webkit-text-stroke:1.0px #c6dfb0;">M</div>
<div style="left:944.3px;top:1729.4px;width:101.3px;height:59.7px;background:#fde595;"></div>
<div class="t" style="left:594.9px;width:800px;top:1731.9px;font-size:51.5px;font-weight:400;color:#fff8e2;text-align:center;transform:scaleX(0.89);-webkit-text-stroke:1.0px #fde595;">L</div>
<div style="left:1050.6px;top:1729.4px;width:102.7px;height:59.7px;background:#fde595;"></div>
<div class="t" style="left:701.9px;width:800px;top:1731.9px;font-size:51.5px;font-weight:400;color:#fff8e2;text-align:center;transform:scaleX(0.89);-webkit-text-stroke:1.0px #fde595;">L</div>
<div style="left:1158.1px;top:1729.4px;width:101.3px;height:59.7px;background:#f3ae85;"></div>
<div class="t" style="left:808.8px;width:800px;top:1731.9px;font-size:51.5px;font-weight:400;color:#fff6ee;text-align:center;transform:scaleX(0.88);-webkit-text-stroke:1.0px #f3ae85;">XL</div>
<div style="left:1266.6px;top:1729.4px;width:101.3px;height:59.7px;background:#f3ae85;"></div>
<div class="t" style="left:917.2px;width:800px;top:1731.9px;font-size:51.5px;font-weight:400;color:#fff6ee;text-align:center;transform:scaleX(0.88);-webkit-text-stroke:1.0px #f3ae85;">XL</div>
<div style="left:1371.7px;top:1729.4px;width:102.2px;height:59.7px;background:#f56066;"></div>
<div class="t" style="left:1022.8px;width:800px;top:1731.9px;font-size:51.5px;font-weight:400;color:#fff4f0;text-align:center;transform:scaleX(0.92);-webkit-text-stroke:1.0px #f56066;">2XL</div>
<div style="left:1479.7px;top:1729.4px;width:102.7px;height:59.7px;background:#f56066;"></div>
<div class="t" style="left:1131.1px;width:800px;top:1731.9px;font-size:51.5px;font-weight:400;color:#fff4f0;text-align:center;transform:scaleX(0.92);-webkit-text-stroke:1.0px #f56066;">2XL</div>
<div style="left:1587.3px;top:1729.4px;width:101.2px;height:59.7px;background:#ddbfc3;"></div>
<div class="t" style="left:1237.9px;width:800px;top:1731.9px;font-size:51.5px;font-weight:400;color:#fff5f5;text-align:center;transform:scaleX(0.9);-webkit-text-stroke:1.0px #ddbfc3;">3XL</div>
<div style="left:1694.3px;top:1729.4px;width:107.5px;height:59.7px;background:#ddbfc3;"></div>
<div class="t" style="left:1348.0px;width:800px;top:1731.9px;font-size:51.5px;font-weight:400;color:#fff5f5;text-align:center;transform:scaleX(0.9);-webkit-text-stroke:1.0px #ddbfc3;">3XL</div>
<div style="left:412.7px;top:1794.5px;width:97.8px;height:59.7px;background:#b0c3e6;"></div>
<div class="t" style="left:61.6px;width:800px;top:1797.0px;font-size:51.5px;font-weight:400;color:#f7f9fe;text-align:center;transform:scaleX(0.83);-webkit-text-stroke:1.0px #b0c3e6;">S</div>
<div style="left:514.8px;top:1794.5px;width:101.7px;height:59.7px;background:#b0c3e6;"></div>
<div class="t" style="left:165.6px;width:800px;top:1797.0px;font-size:51.5px;font-weight:400;color:#f7f9fe;text-align:center;transform:scaleX(0.83);-webkit-text-stroke:1.0px #b0c3e6;">S</div>
<div style="left:622.4px;top:1794.5px;width:101.6px;height:59.7px;background:#b0c3e6;"></div>
<div class="t" style="left:273.2px;width:800px;top:1797.0px;font-size:51.5px;font-weight:400;color:#f7f9fe;text-align:center;transform:scaleX(0.83);-webkit-text-stroke:1.0px #b0c3e6;">S</div>
<div style="left:730.4px;top:1794.5px;width:101.2px;height:59.7px;background:#c6dfb0;"></div>
<div class="t" style="left:381.0px;width:800px;top:1797.0px;font-size:51.5px;font-weight:400;color:#f8fce9;text-align:center;transform:scaleX(1.1);-webkit-text-stroke:1.0px #c6dfb0;">M</div>
<div style="left:836.7px;top:1794.5px;width:101.3px;height:59.7px;background:#c6dfb0;"></div>
<div class="t" style="left:487.4px;width:800px;top:1797.0px;font-size:51.5px;font-weight:400;color:#f8fce9;text-align:center;transform:scaleX(1.1);-webkit-text-stroke:1.0px #c6dfb0;">M</div>
<div style="left:944.3px;top:1794.5px;width:101.3px;height:59.7px;background:#fde595;"></div>
<div class="t" style="left:594.9px;width:800px;top:1797.0px;font-size:51.5px;font-weight:400;color:#fff8e2;text-align:center;transform:scaleX(0.89);-webkit-text-stroke:1.0px #fde595;">L</div>
<div style="left:1050.6px;top:1794.5px;width:102.7px;height:59.7px;background:#fde595;"></div>
<div class="t" style="left:701.9px;width:800px;top:1797.0px;font-size:51.5px;font-weight:400;color:#fff8e2;text-align:center;transform:scaleX(0.89);-webkit-text-stroke:1.0px #fde595;">L</div>
<div style="left:1158.1px;top:1794.5px;width:101.3px;height:59.7px;background:#f3ae85;"></div>
<div class="t" style="left:808.8px;width:800px;top:1797.0px;font-size:51.5px;font-weight:400;color:#fff6ee;text-align:center;transform:scaleX(0.88);-webkit-text-stroke:1.0px #f3ae85;">XL</div>
<div style="left:1266.6px;top:1794.5px;width:101.3px;height:59.7px;background:#f3ae85;"></div>
<div class="t" style="left:917.2px;width:800px;top:1797.0px;font-size:51.5px;font-weight:400;color:#fff6ee;text-align:center;transform:scaleX(0.88);-webkit-text-stroke:1.0px #f3ae85;">XL</div>
<div style="left:1371.7px;top:1794.5px;width:102.2px;height:59.7px;background:#f56066;"></div>
<div class="t" style="left:1022.8px;width:800px;top:1797.0px;font-size:51.5px;font-weight:400;color:#fff4f0;text-align:center;transform:scaleX(0.92);-webkit-text-stroke:1.0px #f56066;">2XL</div>
<div style="left:1479.7px;top:1794.5px;width:102.7px;height:59.7px;background:#f56066;"></div>
<div class="t" style="left:1131.1px;width:800px;top:1797.0px;font-size:51.5px;font-weight:400;color:#fff4f0;text-align:center;transform:scaleX(0.92);-webkit-text-stroke:1.0px #f56066;">2XL</div>
<div style="left:1587.3px;top:1794.5px;width:101.2px;height:59.7px;background:#ddbfc3;"></div>
<div class="t" style="left:1237.9px;width:800px;top:1797.0px;font-size:51.5px;font-weight:400;color:#fff5f5;text-align:center;transform:scaleX(0.9);-webkit-text-stroke:1.0px #ddbfc3;">3XL</div>
<div style="left:1694.3px;top:1794.5px;width:107.5px;height:59.7px;background:#ddbfc3;"></div>
<div class="t" style="left:1348.0px;width:800px;top:1797.0px;font-size:51.5px;font-weight:400;color:#fff5f5;text-align:center;transform:scaleX(0.9);-webkit-text-stroke:1.0px #ddbfc3;">3XL</div>
<div style="left:412.7px;top:1860.3px;width:97.8px;height:59.9px;background:#b0c3e6;"></div>
<div class="t" style="left:61.6px;width:800px;top:1862.9px;font-size:51.5px;font-weight:400;color:#f7f9fe;text-align:center;transform:scaleX(0.83);-webkit-text-stroke:1.0px #b0c3e6;">S</div>
<div style="left:514.8px;top:1860.3px;width:101.7px;height:59.9px;background:#b0c3e6;"></div>
<div class="t" style="left:165.6px;width:800px;top:1862.9px;font-size:51.5px;font-weight:400;color:#f7f9fe;text-align:center;transform:scaleX(0.83);-webkit-text-stroke:1.0px #b0c3e6;">S</div>
<div style="left:622.4px;top:1860.3px;width:101.6px;height:59.9px;background:#b0c3e6;"></div>
<div class="t" style="left:273.2px;width:800px;top:1862.9px;font-size:51.5px;font-weight:400;color:#f7f9fe;text-align:center;transform:scaleX(0.83);-webkit-text-stroke:1.0px #b0c3e6;">S</div>
<div style="left:730.4px;top:1860.3px;width:101.2px;height:59.9px;background:#c6dfb0;"></div>
<div class="t" style="left:381.0px;width:800px;top:1862.9px;font-size:51.5px;font-weight:400;color:#f8fce9;text-align:center;transform:scaleX(1.1);-webkit-text-stroke:1.0px #c6dfb0;">M</div>
<div style="left:836.7px;top:1860.3px;width:101.3px;height:59.9px;background:#c6dfb0;"></div>
<div class="t" style="left:487.4px;width:800px;top:1862.9px;font-size:51.5px;font-weight:400;color:#f8fce9;text-align:center;transform:scaleX(1.1);-webkit-text-stroke:1.0px #c6dfb0;">M</div>
<div style="left:944.3px;top:1860.3px;width:101.3px;height:59.9px;background:#fde595;"></div>
<div class="t" style="left:594.9px;width:800px;top:1862.9px;font-size:51.5px;font-weight:400;color:#fff8e2;text-align:center;transform:scaleX(0.89);-webkit-text-stroke:1.0px #fde595;">L</div>
<div style="left:1050.6px;top:1860.3px;width:102.7px;height:59.9px;background:#fde595;"></div>
<div class="t" style="left:701.9px;width:800px;top:1862.9px;font-size:51.5px;font-weight:400;color:#fff8e2;text-align:center;transform:scaleX(0.89);-webkit-text-stroke:1.0px #fde595;">L</div>
<div style="left:1158.1px;top:1860.3px;width:101.3px;height:59.9px;background:#f3ae85;"></div>
<div class="t" style="left:808.8px;width:800px;top:1862.9px;font-size:51.5px;font-weight:400;color:#fff6ee;text-align:center;transform:scaleX(0.88);-webkit-text-stroke:1.0px #f3ae85;">XL</div>
<div style="left:1266.6px;top:1860.3px;width:101.3px;height:59.9px;background:#f3ae85;"></div>
<div class="t" style="left:917.2px;width:800px;top:1862.9px;font-size:51.5px;font-weight:400;color:#fff6ee;text-align:center;transform:scaleX(0.88);-webkit-text-stroke:1.0px #f3ae85;">XL</div>
<div style="left:1371.7px;top:1860.3px;width:102.2px;height:59.9px;background:#f56066;"></div>
<div class="t" style="left:1022.8px;width:800px;top:1862.9px;font-size:51.5px;font-weight:400;color:#fff4f0;text-align:center;transform:scaleX(0.92);-webkit-text-stroke:1.0px #f56066;">2XL</div>
<div style="left:1479.7px;top:1860.3px;width:102.7px;height:59.9px;background:#f56066;"></div>
<div class="t" style="left:1131.1px;width:800px;top:1862.9px;font-size:51.5px;font-weight:400;color:#fff4f0;text-align:center;transform:scaleX(0.92);-webkit-text-stroke:1.0px #f56066;">2XL</div>
<div style="left:1587.3px;top:1860.3px;width:101.2px;height:59.9px;background:#ddbfc3;"></div>
<div class="t" style="left:1237.9px;width:800px;top:1862.9px;font-size:51.5px;font-weight:400;color:#fff5f5;text-align:center;transform:scaleX(0.9);-webkit-text-stroke:1.0px #ddbfc3;">3XL</div>
<div style="left:1694.3px;top:1860.3px;width:107.5px;height:59.9px;background:#ddbfc3;"></div>
<div class="t" style="left:1348.0px;width:800px;top:1862.9px;font-size:51.5px;font-weight:400;color:#fff5f5;text-align:center;transform:scaleX(0.9);-webkit-text-stroke:1.0px #ddbfc3;">3XL</div>
<div style="left:202.0px;top:1333.5px;width:6.0px;height:603.8px;background:#0a0a0a;"></div>
<div style="left:175.6px;top:1396.8px;width:60.7px;height:7.0px;background:#0a0a0a;"></div>
<div class="t" style="left:-631.5px;width:800px;top:1376.3px;font-size:43px;font-weight:400;color:#1a1a1a;text-align:right;transform-origin:100% 0;transform:scaleX(0.92);-webkit-text-stroke:0.3px #fff;">175</div>
<div class="t" style="left:244.0px;top:1376.3px;font-size:43px;font-weight:400;color:#1a1a1a;transform-origin:0 0;transform:scaleX(0.92);letter-spacing:1.7px;-webkit-text-stroke:0.3px #fff;">5'8''</div>
<div style="left:175.6px;top:1461.5px;width:60.7px;height:4.0px;background:#0a0a0a;"></div>
<div class="t" style="left:-631.5px;width:800px;top:1441.4px;font-size:43px;font-weight:400;color:#1a1a1a;text-align:right;transform-origin:100% 0;transform:scaleX(0.92);-webkit-text-stroke:0.3px #fff;">170</div>
<div class="t" style="left:244.0px;top:1441.4px;font-size:43px;font-weight:400;color:#1a1a1a;transform-origin:0 0;transform:scaleX(0.92);letter-spacing:1.7px;-webkit-text-stroke:0.3px #fff;">5'7''</div>
<div style="left:175.6px;top:1525.9px;width:60.7px;height:7.0px;background:#0a0a0a;"></div>
<div class="t" style="left:-631.5px;width:800px;top:1507.6px;font-size:43px;font-weight:400;color:#1a1a1a;text-align:right;transform-origin:100% 0;transform:scaleX(0.92);-webkit-text-stroke:0.3px #fff;">168</div>
<div class="t" style="left:244.0px;top:1507.6px;font-size:43px;font-weight:400;color:#1a1a1a;transform-origin:0 0;transform:scaleX(0.92);letter-spacing:1.7px;-webkit-text-stroke:0.3px #fff;">5'6''</div>
<div style="left:175.6px;top:1592.2px;width:60.7px;height:7.0px;background:#0a0a0a;"></div>
<div class="t" style="left:-631.5px;width:800px;top:1571.6px;font-size:43px;font-weight:400;color:#1a1a1a;text-align:right;transform-origin:100% 0;transform:scaleX(0.92);-webkit-text-stroke:0.3px #fff;">166</div>
<div class="t" style="left:244.0px;top:1571.6px;font-size:43px;font-weight:400;color:#1a1a1a;transform-origin:0 0;transform:scaleX(0.92);letter-spacing:1.7px;-webkit-text-stroke:0.3px #fff;">5'5''</div>
<div style="left:175.6px;top:1659.0px;width:60.7px;height:4.0px;background:#0a0a0a;"></div>
<div class="t" style="left:-631.5px;width:800px;top:1638.1px;font-size:43px;font-weight:400;color:#1a1a1a;text-align:right;transform-origin:100% 0;transform:scaleX(0.92);-webkit-text-stroke:0.3px #fff;">164</div>
<div class="t" style="left:244.0px;top:1638.1px;font-size:43px;font-weight:400;color:#1a1a1a;transform-origin:0 0;transform:scaleX(0.92);letter-spacing:1.7px;-webkit-text-stroke:0.3px #fff;">5'4''</div>
<div style="left:175.6px;top:1722.8px;width:60.7px;height:7.0px;background:#0a0a0a;"></div>
<div class="t" style="left:-631.5px;width:800px;top:1704.6px;font-size:43px;font-weight:400;color:#1a1a1a;text-align:right;transform-origin:100% 0;transform:scaleX(0.92);-webkit-text-stroke:0.3px #fff;">162</div>
<div class="t" style="left:244.0px;top:1704.6px;font-size:43px;font-weight:400;color:#1a1a1a;transform-origin:0 0;transform:scaleX(0.92);letter-spacing:1.7px;-webkit-text-stroke:0.3px #fff;">5'3''</div>
<div style="left:175.6px;top:1789.4px;width:60.7px;height:4.0px;background:#0a0a0a;"></div>
<div class="t" style="left:-631.5px;width:800px;top:1768.8px;font-size:43px;font-weight:400;color:#1a1a1a;text-align:right;transform-origin:100% 0;transform:scaleX(0.92);-webkit-text-stroke:0.3px #fff;">160</div>
<div class="t" style="left:244.0px;top:1768.8px;font-size:43px;font-weight:400;color:#1a1a1a;transform-origin:0 0;transform:scaleX(0.92);letter-spacing:1.7px;-webkit-text-stroke:0.3px #fff;">5'2''</div>
<div style="left:175.6px;top:1853.7px;width:60.7px;height:7.0px;background:#0a0a0a;"></div>
<div class="t" style="left:-631.5px;width:800px;top:1835.0px;font-size:43px;font-weight:400;color:#1a1a1a;text-align:right;transform-origin:100% 0;transform:scaleX(0.92);-webkit-text-stroke:0.3px #fff;">155</div>
<div class="t" style="left:244.0px;top:1835.0px;font-size:43px;font-weight:400;color:#1a1a1a;transform-origin:0 0;transform:scaleX(0.92);letter-spacing:1.7px;-webkit-text-stroke:0.3px #fff;">5'1''</div>
<div style="left:175.6px;top:1919.8px;width:60.7px;height:4.0px;background:#0a0a0a;"></div>
<div class="t" style="left:-631.5px;width:800px;top:1891.5px;font-size:43px;font-weight:400;color:#1a1a1a;text-align:right;transform-origin:100% 0;transform:scaleX(0.92);-webkit-text-stroke:0.3px #fff;">150</div>
<div class="t" style="left:244.0px;top:1891.5px;font-size:43px;font-weight:400;color:#1a1a1a;transform-origin:0 0;transform:scaleX(0.92);letter-spacing:1.7px;-webkit-text-stroke:0.3px #fff;">4'9''</div>
<div class="t" style="left:69.8px;top:1290.2px;font-size:35px;font-weight:400;color:#1a1a1a;transform-origin:0 0;transform:scaleX(1.04);">Height (Altezza)</div>
<div class="t" style="left:116.3px;top:1328.8px;font-size:41px;font-weight:400;color:#1a1a1a;transform-origin:0 0;transform:scaleX(0.95);">cm</div>
<div class="t" style="left:281.5px;top:1328.8px;font-size:41px;font-weight:400;color:#1a1a1a;transform-origin:0 0;transform:scaleX(0.95);">ft</div>
<div style="left:346.2px;top:2018.7px;width:1510.4px;height:6.0px;background:#0a0a0a;"></div>
<div style="left:402.1px;top:2001.0px;width:7.0px;height:40.2px;background:#0a0a0a;"></div>
<div class="t" style="left:6.6px;width:800px;top:1947.1px;font-size:43px;font-weight:400;color:#1a1a1a;text-align:center;transform:scaleX(0.93);-webkit-text-stroke:0.3px #fff;">115</div>
<div class="t" style="left:6.6px;width:800px;top:2041.4px;font-size:43px;font-weight:400;color:#1a1a1a;text-align:center;transform:scaleX(0.93);-webkit-text-stroke:0.3px #fff;">52,5</div>
<div style="left:511.4px;top:2001.0px;width:4.0px;height:40.2px;background:#0a0a0a;"></div>
<div class="t" style="left:114.4px;width:800px;top:1947.1px;font-size:43px;font-weight:400;color:#1a1a1a;text-align:center;transform:scaleX(0.93);-webkit-text-stroke:0.3px #fff;">121</div>
<div class="t" style="left:114.4px;width:800px;top:2041.4px;font-size:43px;font-weight:400;color:#1a1a1a;text-align:center;transform:scaleX(0.93);-webkit-text-stroke:0.3px #fff;">55</div>
<div style="left:615.7px;top:2001.0px;width:7.0px;height:40.2px;background:#0a0a0a;"></div>
<div class="t" style="left:220.2px;width:800px;top:1947.1px;font-size:43px;font-weight:400;color:#1a1a1a;text-align:center;transform:scaleX(0.93);-webkit-text-stroke:0.3px #fff;">127</div>
<div class="t" style="left:220.2px;width:800px;top:2041.4px;font-size:43px;font-weight:400;color:#1a1a1a;text-align:center;transform:scaleX(0.93);-webkit-text-stroke:0.3px #fff;">57,5</div>
<div style="left:723.3px;top:2001.0px;width:7.0px;height:40.2px;background:#0a0a0a;"></div>
<div class="t" style="left:327.8px;width:800px;top:1947.1px;font-size:43px;font-weight:400;color:#1a1a1a;text-align:center;transform:scaleX(0.93);-webkit-text-stroke:0.3px #fff;">132</div>
<div class="t" style="left:327.8px;width:800px;top:2041.4px;font-size:43px;font-weight:400;color:#1a1a1a;text-align:center;transform:scaleX(0.93);-webkit-text-stroke:0.3px #fff;">60</div>
<div style="left:831.9px;top:2001.0px;width:4.0px;height:40.2px;background:#0a0a0a;"></div>
<div class="t" style="left:434.9px;width:800px;top:1947.1px;font-size:43px;font-weight:400;color:#1a1a1a;text-align:center;transform:scaleX(0.93);-webkit-text-stroke:0.3px #fff;">138</div>
<div class="t" style="left:434.9px;width:800px;top:2041.4px;font-size:43px;font-weight:400;color:#1a1a1a;text-align:center;transform:scaleX(0.93);-webkit-text-stroke:0.3px #fff;">62,5</div>
<div style="left:938.0px;top:2001.0px;width:7.0px;height:40.2px;background:#0a0a0a;"></div>
<div class="t" style="left:542.5px;width:800px;top:1947.1px;font-size:43px;font-weight:400;color:#1a1a1a;text-align:center;transform:scaleX(0.93);-webkit-text-stroke:0.3px #fff;">143</div>
<div class="t" style="left:542.5px;width:800px;top:2041.4px;font-size:43px;font-weight:400;color:#1a1a1a;text-align:center;transform:scaleX(0.93);-webkit-text-stroke:0.3px #fff;">65</div>
<div style="left:1046.1px;top:2001.0px;width:4.0px;height:40.2px;background:#0a0a0a;"></div>
<div class="t" style="left:649.1px;width:800px;top:1947.1px;font-size:43px;font-weight:400;color:#1a1a1a;text-align:center;transform:scaleX(0.93);-webkit-text-stroke:0.3px #fff;">149</div>
<div class="t" style="left:649.1px;width:800px;top:2041.4px;font-size:43px;font-weight:400;color:#1a1a1a;text-align:center;transform:scaleX(0.93);-webkit-text-stroke:0.3px #fff;">67,5</div>
<div style="left:1154.2px;top:2001.0px;width:4.0px;height:40.2px;background:#0a0a0a;"></div>
<div class="t" style="left:757.2px;width:800px;top:1947.1px;font-size:43px;font-weight:400;color:#1a1a1a;text-align:center;transform:scaleX(0.93);-webkit-text-stroke:0.3px #fff;">154</div>
<div class="t" style="left:757.2px;width:800px;top:2041.4px;font-size:43px;font-weight:400;color:#1a1a1a;text-align:center;transform:scaleX(0.93);-webkit-text-stroke:0.3px #fff;">70</div>
<div style="left:1259.8px;top:2001.0px;width:7.0px;height:40.2px;background:#0a0a0a;"></div>
<div class="t" style="left:864.3px;width:800px;top:1947.1px;font-size:43px;font-weight:400;color:#1a1a1a;text-align:center;transform:scaleX(0.93);-webkit-text-stroke:0.3px #fff;">160</div>
<div class="t" style="left:864.3px;width:800px;top:2041.4px;font-size:43px;font-weight:400;color:#1a1a1a;text-align:center;transform:scaleX(0.93);-webkit-text-stroke:0.3px #fff;">72,5</div>
<div style="left:1368.1px;top:2001.0px;width:4.0px;height:40.2px;background:#0a0a0a;"></div>
<div class="t" style="left:971.1px;width:800px;top:1947.1px;font-size:43px;font-weight:400;color:#1a1a1a;text-align:center;transform:scaleX(0.93);-webkit-text-stroke:0.3px #fff;">165</div>
<div class="t" style="left:971.1px;width:800px;top:2041.4px;font-size:43px;font-weight:400;color:#1a1a1a;text-align:center;transform:scaleX(0.93);-webkit-text-stroke:0.3px #fff;">75</div>
<div style="left:1473.4px;top:2001.0px;width:7.0px;height:40.2px;background:#0a0a0a;"></div>
<div class="t" style="left:1077.9px;width:800px;top:1947.1px;font-size:43px;font-weight:400;color:#1a1a1a;text-align:center;transform:scaleX(0.93);-webkit-text-stroke:0.3px #fff;">170</div>
<div class="t" style="left:1077.9px;width:800px;top:2041.4px;font-size:43px;font-weight:400;color:#1a1a1a;text-align:center;transform:scaleX(0.93);-webkit-text-stroke:0.3px #fff;">77,5</div>
<div style="left:1581.0px;top:2001.0px;width:7.0px;height:40.2px;background:#0a0a0a;"></div>
<div class="t" style="left:1185.5px;width:800px;top:1947.1px;font-size:43px;font-weight:400;color:#1a1a1a;text-align:center;transform:scaleX(0.93);-webkit-text-stroke:0.3px #fff;">176</div>
<div class="t" style="left:1185.5px;width:800px;top:2041.4px;font-size:43px;font-weight:400;color:#1a1a1a;text-align:center;transform:scaleX(0.93);-webkit-text-stroke:0.3px #fff;">80</div>
<div style="left:1689.4px;top:2001.0px;width:4.0px;height:40.2px;background:#0a0a0a;"></div>
<div class="t" style="left:1292.4px;width:800px;top:1947.1px;font-size:43px;font-weight:400;color:#1a1a1a;text-align:center;transform:scaleX(0.93);-webkit-text-stroke:0.3px #fff;">181</div>
<div class="t" style="left:1292.4px;width:800px;top:2041.4px;font-size:43px;font-weight:400;color:#1a1a1a;text-align:center;transform:scaleX(0.93);-webkit-text-stroke:0.3px #fff;">82,5</div>
<div style="left:1807.0px;top:2001.0px;width:4.0px;height:40.2px;background:#0a0a0a;"></div>
<div class="t" style="left:1405.0px;width:800px;top:1947.1px;font-size:43px;font-weight:400;color:#1a1a1a;text-align:center;transform:scaleX(0.93);-webkit-text-stroke:0.3px #fff;">187</div>
<div class="t" style="left:1405.0px;width:800px;top:2041.4px;font-size:43px;font-weight:400;color:#1a1a1a;text-align:center;transform:scaleX(0.93);-webkit-text-stroke:0.3px #fff;">85</div>
<div class="t" style="left:244.0px;top:1948.8px;font-size:41px;font-weight:400;color:#1a1a1a;transform-origin:0 0;transform:scaleX(0.95);">ibs</div>
<div class="t" style="left:244.0px;top:2042.7px;font-size:41px;font-weight:400;color:#1a1a1a;transform-origin:0 0;transform:scaleX(0.95);">kgs</div>
<div class="t" style="left:111.5px;top:2004.2px;font-size:34px;font-weight:400;color:#1a1a1a;transform-origin:0 0;transform:scaleX(1.055);">Weight (Peso)</div>
<div style="left:409.0px;top:2110.2px;width:101.4px;height:57.8px;background:#b0c3e6;"></div>
<div class="t" style="left:59.7px;width:800px;top:2111.7px;font-size:51.5px;font-weight:400;color:#f7f9fe;text-align:center;transform:scaleX(0.83);-webkit-text-stroke:1.0px #b0c3e6;">S</div>
<div style="left:515.2px;top:2110.2px;width:101.0px;height:57.8px;background:#c6dfb0;"></div>
<div class="t" style="left:165.7px;width:800px;top:2111.7px;font-size:51.5px;font-weight:400;color:#f8fce9;text-align:center;transform:scaleX(1.1);-webkit-text-stroke:1.0px #c6dfb0;">M</div>
<div style="left:623.4px;top:2110.2px;width:101.0px;height:57.8px;background:#fde595;"></div>
<div class="t" style="left:273.9px;width:800px;top:2111.7px;font-size:51.5px;font-weight:400;color:#fff8e2;text-align:center;transform:scaleX(0.89);-webkit-text-stroke:1.0px #fde595;">L</div>
<div style="left:730.5px;top:2110.2px;width:100.9px;height:57.8px;background:#f3ae85;"></div>
<div class="t" style="left:381.0px;width:800px;top:2111.7px;font-size:51.5px;font-weight:400;color:#fff6ee;text-align:center;transform:scaleX(0.88);-webkit-text-stroke:1.0px #f3ae85;">XL</div>
<div style="left:836.7px;top:2110.2px;width:101.8px;height:57.8px;background:#f56066;"></div>
<div class="t" style="left:487.6px;width:800px;top:2111.7px;font-size:51.5px;font-weight:400;color:#fff4f0;text-align:center;transform:scaleX(0.92);-webkit-text-stroke:1.0px #f56066;">2XL</div>
<div style="left:944.1px;top:2110.2px;width:102.2px;height:57.8px;background:#ddbfc3;"></div>
<div class="t" style="left:595.2px;width:800px;top:2111.7px;font-size:51.5px;font-weight:400;color:#fff5f5;text-align:center;transform:scaleX(0.9);-webkit-text-stroke:1.0px #ddbfc3;">3XL</div>
</body></html>
